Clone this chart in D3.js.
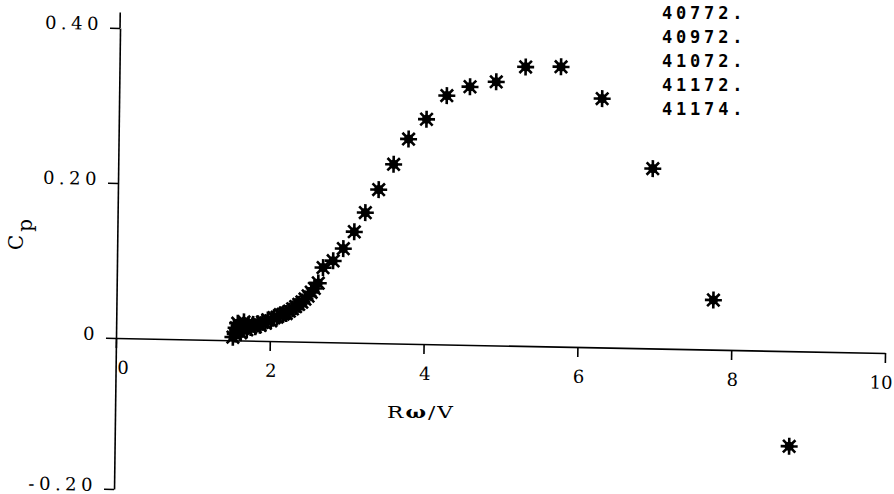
<!DOCTYPE html>
<html><head><meta charset="utf-8">
<script src="https://cdn.jsdelivr.net/npm/d3@7"></script>
<style>body{margin:0;background:#fff}</style>
</head><body><svg id="c" width="894" height="494"></svg>
<script>
// Measured points: R*omega/V and power coefficient Cp
const rwv = [1.52,1.55,1.56,1.58,1.58,1.60,1.62,1.64,1.66,1.67,1.70,1.72,1.75,1.78,1.81,1.84,1.87,1.90,1.94,1.97,2.01,2.05,2.09,2.13,2.17,2.21,2.25,2.29,2.33,2.37,2.41,2.45,2.49,2.53,2.57,2.62,2.68,2.81,2.94,3.08,3.22,3.39,3.58,3.77,4.00,4.26,4.56,4.90,5.28,5.74,6.28,6.95,7.76,8.77];
const cp  = [0.004,0.008,0.016,0.012,0.022,0.018,0.010,0.015,0.024,0.019,0.014,0.020,0.017,0.021,0.018,0.022,0.020,0.024,0.023,0.027,0.026,0.030,0.031,0.034,0.035,0.036,0.039,0.042,0.045,0.048,0.051,0.055,0.059,0.064,0.069,0.076,0.096,0.105,0.121,0.143,0.168,0.198,0.231,0.264,0.290,0.321,0.333,0.340,0.360,0.361,0.321,0.232,0.064,-0.126];
const xTicks = [0,2,4,6,8,10];
const yTicks = [-0.2,0,0.2,0.4];
const yTickLabels = ["-0.20","0","0.20","0.40"];
const runLabels = ["40772.","40972.","41072.","41172.","41174."];

const svg = d3.select("#c");
const ox = 116, oy = 338;
const x = d3.scaleLinear().domain([0,10]).range([0,769]);
const y = d3.scaleLinear().domain([-0.2,0,0.4]).range([151,0,-310]);

// slight scan skew of the original plot
const g = svg.append("g").attr("transform",`translate(${ox},${oy}) matrix(1,0.0195,-0.013,1,0,0)`);

const serif = "'DejaVu Serif','Liberation Serif',serif";

// x axis
const xa = g.append("g").call(d3.axisBottom(x).tickValues(xTicks).tickSize(10).tickSizeOuter(0).tickPadding(13).tickFormat(d3.format("d")));
xa.select(".domain").attr("stroke","#000").attr("stroke-width",1.6);
xa.selectAll(".tick line").attr("stroke","#000").attr("stroke-width",1.6);
xa.selectAll(".tick text").attr("font-family",serif).attr("font-size",18).attr("fill","#000")
  .attr("dy","0.71em").attr("dx",d=>d===0?7:(d===10?-4:1));

// y axis
const ya = g.append("g").call(d3.axisLeft(y).tickValues(yTicks).tickSize(10).tickSizeOuter(0).tickPadding(7).tickFormat((d,i)=>yTickLabels[i]));
ya.select(".domain").attr("stroke","#000").attr("stroke-width",1.6);
ya.selectAll(".tick line").attr("stroke","#000").attr("stroke-width",1.6);
ya.selectAll(".tick text").attr("font-family",serif).attr("font-size",18).attr("letter-spacing",4.5).attr("fill","#000").attr("dy","0.1em");
g.append("line").attr("x1",0).attr("x2",0).attr("y1",y(0.4)).attr("y2",y(0.42)).attr("stroke","#000").attr("stroke-width",1.6);

// star markers
const r = 8.5, d2 = 6.2;
const starPath = `M${-r},0L${r},0M0,${-r}L0,${r}M${-d2},${-d2}L${d2},${d2}M${-d2},${d2}L${d2},${-d2}`;
const pts = rwv.map((v,i)=>[v,cp[i]]);
const st = g.append("g").selectAll("g").data(pts).join("g")
  .attr("transform",d=>`translate(${x(d[0])},${y(d[1])})`);
st.append("path").attr("d",starPath).attr("stroke","#000").attr("stroke-width",2.6).attr("fill","none");
st.append("circle").attr("r",4.6).attr("fill","#000");

// axis titles
const xt = svg.append("text").attr("transform","translate(421,418) scale(1.35,1)").attr("text-anchor","middle")
  .attr("font-family",serif).attr("font-size",16).attr("letter-spacing",1.5);
xt.append("tspan").text("R");
xt.append("tspan").attr("font-weight","bold").text("ω");
xt.append("tspan").text("/V");
const cpT = svg.append("text").attr("transform","translate(23,233) rotate(-90)").attr("text-anchor","middle")
  .attr("font-family",serif).attr("font-size",20).attr("letter-spacing",3);
cpT.append("tspan").text("C");
cpT.append("tspan").attr("dy",9).text("p");

// run labels
svg.append("g").selectAll("text").data(runLabels).join("text")
  .attr("x",662).attr("y",(d,i)=>19+24*i)
  .attr("font-family","'DejaVu Sans Mono',monospace").attr("font-weight","bold").attr("font-size",17).attr("letter-spacing",3.8)
  .text(d=>d);
</script></body></html>
